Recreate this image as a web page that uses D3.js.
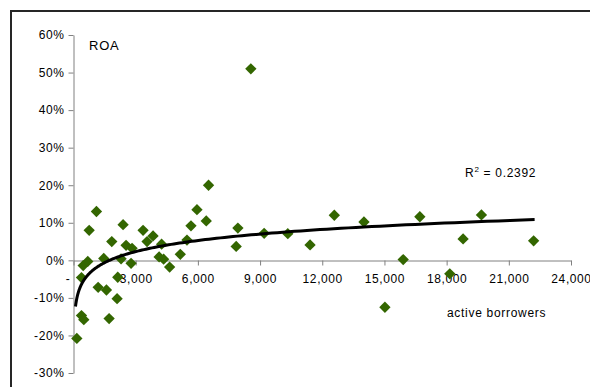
<!DOCTYPE html>
<html><head><meta charset="utf-8">
<script src="https://cdn.jsdelivr.net/npm/d3@7"></script>
<style>body{margin:0;background:#fff}svg{display:block;font-family:"Liberation Sans",Arial,sans-serif}</style>
</head><body><svg id="c" width="590" height="387"></svg>
<script>
const borrowers = [160,385,497,385,467,689,756,1107,1189,1460,1589,1718,1846,2103,2135,2295,2392,2536,2777,2826,3356,3549,3838,4130,4250,4348,4637,5152,5474,5667,5956,6404,6515,7848,7930,8555,9197,10338,11412,12582,14012,15023,15905,16708,18152,18794,19679,22197];
const roa = [-0.208,-0.147,-0.158,-0.046,-0.014,-0.003,0.080,0.130,-0.072,0.005,-0.079,-0.155,0.050,-0.102,-0.045,0.004,0.095,0.040,-0.008,0.032,0.080,0.050,0.065,0.009,0.043,0.003,-0.018,0.016,0.054,0.092,0.135,0.105,0.200,0.037,0.086,0.510,0.072,0.071,0.041,0.120,0.102,-0.125,0.002,0.116,-0.036,0.057,0.121,0.052];
const xTicks = [0,3000,6000,9000,12000,15000,18000,21000,24000];
const xTickLabels = ["-","3,000","6,000","9,000","12,000","15,000","18,000","21,000","24,000"];
const yTicks = [-0.3,-0.2,-0.1,0,0.1,0.2,0.3,0.4,0.5,0.6];
const yTickLabels = ["-30%","-20%","-10%","0%","10%","20%","30%","40%","50%","60%"];
// logarithmic trendline as shown in the chart: y = slope*ln(x) + intercept
const trendSlope = 0.0425;
const trendIntercept = -0.317;
const trendRange = [96, 22245];
const r2Label = "0.2392";

const svg = d3.select("#c");
const x = d3.scaleLinear().domain([0,24000]).range([73.5,571]);
const y = d3.scaleLinear().domain([-0.3,0.6]).range([373,35]);
const FONT = "Liberation Sans, Arial, sans-serif";

svg.append("rect").attr("x",11).attr("y",11).attr("width",700).attr("height",500)
  .attr("fill","none").attr("stroke","#262626").attr("stroke-width",2);

const gx = svg.append("g").attr("transform",`translate(0,${Math.round(y(0))+0.5})`)
  .call(d3.axisBottom(x).tickValues(xTicks).tickSize(5).tickSizeOuter(0).tickFormat((d,i)=>xTickLabels[i]));
gx.select(".domain").attr("stroke","#808080");
gx.selectAll(".tick line").attr("stroke","#808080");
gx.selectAll(".tick text").attr("font-size",12).attr("fill","#000").attr("dy","1.2em")
  .attr("letter-spacing",0.6).attr("dx",(d)=>d===0?-6:0).attr("font-family",FONT);

const gy = svg.append("g").attr("transform","translate(73.5,0)")
  .call(d3.axisLeft(y).tickValues(yTicks).tickSize(5).tickSizeOuter(0).tickFormat((d,i)=>yTickLabels[i]));
gy.select(".domain").attr("stroke","#808080");
gy.selectAll(".tick line").attr("stroke","#808080");
gy.selectAll(".tick text").attr("font-size",12).attr("fill","#000").attr("x",-9)
  .attr("letter-spacing",0.6).attr("font-family",FONT);

const trendPts = d3.range(0,201).map(i=>{
  const v = Math.exp(Math.log(trendRange[0])+(Math.log(trendRange[1])-Math.log(trendRange[0]))*i/200);
  return [v, trendSlope*Math.log(v)+trendIntercept];
});

svg.append("g").selectAll("path").data(borrowers.map((d,i)=>[d,roa[i]])).join("path")
  .attr("d", d3.symbol().type(d3.symbolSquare).size(64))
  .attr("transform",d=>`translate(${x(d[0])},${y(d[1])}) rotate(45)`)
  .attr("fill","#336600");

svg.append("path").datum(trendPts)
  .attr("d", d3.line().x(d=>x(d[0])).y(d=>y(d[1])))
  .attr("fill","none").attr("stroke","#000").attr("stroke-width",3);

svg.append("text").attr("x",89).attr("y",50).attr("font-size",13).attr("letter-spacing",0.8).text("ROA");
svg.append("text").attr("x",447).attr("y",317).attr("font-size",12).attr("letter-spacing",0.7).text("active borrowers");
const rt = svg.append("text").attr("x",465).attr("y",177).attr("font-size",12).attr("letter-spacing",0.7);
rt.append("tspan").text("R");
rt.append("tspan").attr("font-size",8).attr("dy",-5).text("2");
rt.append("tspan").attr("dy",5).text(" = " + r2Label);
</script></body></html>
